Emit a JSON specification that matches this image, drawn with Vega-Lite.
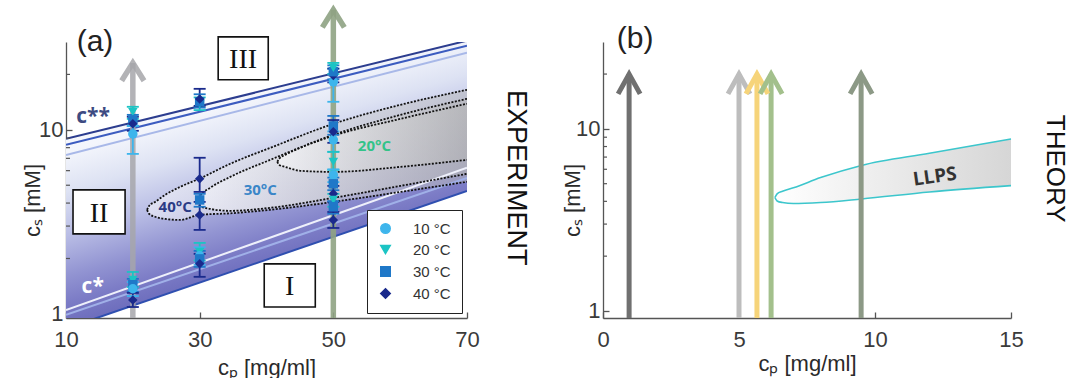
{
  "$schema": "https://vega.github.io/schema/vega-lite/v6.json",
  "padding": {"left": 21, "top": -2, "right": 6, "bottom": 0},
  "background": "white",
  "config": {
    "view": {"stroke": null},
    "font": "Liberation Sans",
    "axis": {"grid": false, "labelFlush": false, "domainColor": "#555555", "domainWidth": 1.3, "tickColor": "#555555", "tickWidth": 1.3, "tickSize": -6, "labelFontSize": 22, "labelColor": "#3a3a3a", "labelFont": "Liberation Sans", "titleFont": "Liberation Sans", "titleFontSize": 22, "titleFontWeight": "normal", "titleColor": "#2a2a2a"},
    "axisX": {"labelPadding": 17},
    "axisY": {"labelPadding": 9}
  },
  "datasets": {
    "contA": [
      {"t": "40", "cp": 22.13, "cs": 3.67, "cs2": 3.67},
      {"t": "40", "cp": 22.43, "cs": 3.5, "cs2": 3.86},
      {"t": "40", "cp": 23.33, "cs": 3.37, "cs2": 4.06},
      {"t": "40", "cp": 24.83, "cs": 3.28, "cs2": 4.43},
      {"t": "40", "cp": 27.08, "cs": 3.24, "cs2": 4.9},
      {"t": "40", "cp": 29.93, "cs": 3.45, "cs2": 5.42},
      {"t": "40", "cp": 34.57, "cs": 3.52, "cs2": 6.54},
      {"t": "40", "cp": 40.56, "cs": 3.68, "cs2": 7.98},
      {"t": "40", "cp": 50, "cs": 4.06, "cs2": 10.78},
      {"t": "40", "cp": 60.04, "cs": 4.6, "cs2": 13.67},
      {"t": "40", "cp": 70, "cs": 5.22, "cs2": 16.5},
      {"t": "30", "cp": 29.63, "cs": 4.06, "cs2": 4.06},
      {"t": "30", "cp": 30.07, "cs": 3.86, "cs2": 4.38},
      {"t": "30", "cp": 31.57, "cs": 3.72, "cs2": 4.84},
      {"t": "30", "cp": 34.57, "cs": 3.63, "cs2": 5.55},
      {"t": "30", "cp": 40.56, "cs": 3.77, "cs2": 6.87},
      {"t": "30", "cp": 50, "cs": 4.27, "cs2": 9.39},
      {"t": "30", "cp": 60.04, "cs": 4.96, "cs2": 12.06},
      {"t": "30", "cp": 70, "cs": 5.77, "cs2": 14.74},
      {"t": "20", "cp": 41.61, "cs": 6.7, "cs2": 6.7},
      {"t": "20", "cp": 41.91, "cs": 6.45, "cs2": 6.96},
      {"t": "20", "cp": 42.81, "cs": 6.29, "cs2": 7.31},
      {"t": "20", "cp": 45.06, "cs": 5.99, "cs2": 7.98},
      {"t": "20", "cp": 50, "cs": 5.91, "cs2": 9.28},
      {"t": "20", "cp": 60.04, "cs": 6.29, "cs2": 11.47},
      {"t": "20", "cp": 70, "cs": 6.87, "cs2": 13.85}
    ],
    "linesA": [
      {"id": "c2a", "cp": 10, "cs": 8.93}, {"id": "c2a", "cp": 70, "cs": 30.5},
      {"id": "c2b", "cp": 10, "cs": 8.3}, {"id": "c2b", "cp": 70, "cs": 28.6},
      {"id": "c2c", "cp": 10, "cs": 7.3}, {"id": "c2c", "cp": 70, "cs": 26.2},
      {"id": "c1a", "cp": 10, "cs": 1.05}, {"id": "c1a", "cp": 70, "cs": 6.22},
      {"id": "c1b", "cp": 10, "cs": 0.988}, {"id": "c1b", "cp": 70, "cs": 5.48},
      {"id": "c1c", "cp": 10, "cs": 0.833}, {"id": "c1c", "cp": 70, "cs": 4.66}
    ],
    "pointsA": [
      {"T": "20 °C", "cp": 20, "cs": 12.5, "lo": 11.47, "hi": 13.34},
      {"T": "30 °C", "cp": 20, "cs": 11.3, "lo": 10.52, "hi": 12.06},
      {"T": "40 °C", "cp": 20, "cs": 10.8, "lo": 9.88, "hi": 11.77},
      {"T": "10 °C", "cp": 20, "cs": 9.5, "lo": 7.4, "hi": 10.5},
      {"T": "20 °C", "cp": 20, "cs": 1.53, "lo": 1.4, "hi": 1.69},
      {"T": "30 °C", "cp": 20, "cs": 1.44, "lo": 1.32, "hi": 1.55},
      {"T": "10 °C", "cp": 20, "cs": 1.37, "lo": 1.25, "hi": 1.49},
      {"T": "40 °C", "cp": 20, "cs": 1.19, "lo": 1.09, "hi": 1.3},
      {"T": "20 °C", "cp": 30, "cs": 13.8, "lo": 12.8, "hi": 15.0},
      {"T": "30 °C", "cp": 30, "cs": 14.2, "lo": 13.2, "hi": 15.6},
      {"T": "40 °C", "cp": 30, "cs": 14.7, "lo": 13.5, "hi": 16.7},
      {"T": "40 °C", "cp": 30, "cs": 5.42, "lo": 4.6, "hi": 7.05},
      {"T": "30 °C", "cp": 30, "cs": 4.16, "lo": 3.82, "hi": 4.49},
      {"T": "40 °C", "cp": 30, "cs": 3.45, "lo": 2.86, "hi": 4.06},
      {"T": "20 °C", "cp": 30, "cs": 2.17, "lo": 1.95, "hi": 2.43},
      {"T": "10 °C", "cp": 30, "cs": 2.07, "lo": 1.85, "hi": 2.3},
      {"T": "30 °C", "cp": 30, "cs": 1.99, "lo": 1.8, "hi": 2.2},
      {"T": "40 °C", "cp": 30, "cs": 1.87, "lo": 1.59, "hi": 2.12},
      {"T": "10 °C", "cp": 50, "cs": 18.2, "lo": 14.2, "hi": 21.5},
      {"T": "40 °C", "cp": 50, "cs": 19.7, "lo": 18.1, "hi": 21.5},
      {"T": "30 °C", "cp": 50, "cs": 20.7, "lo": 18.8, "hi": 22.4},
      {"T": "20 °C", "cp": 50, "cs": 21.7, "lo": 20.1, "hi": 23.1},
      {"T": "30 °C", "cp": 50, "cs": 10.5, "lo": 9.4, "hi": 11.9},
      {"T": "10 °C", "cp": 50, "cs": 8.83, "lo": 7.6, "hi": 9.8},
      {"T": "40 °C", "cp": 50, "cs": 9.75, "lo": 8.5, "hi": 11.3},
      {"T": "20 °C", "cp": 50, "cs": 6.7, "lo": 6.06, "hi": 7.59},
      {"T": "10 °C", "cp": 50, "cs": 5.69, "lo": 5.2, "hi": 6.1},
      {"T": "30 °C", "cp": 50, "cs": 5.09, "lo": 4.7, "hi": 5.5},
      {"T": "40 °C", "cp": 50, "cs": 4.49, "lo": 4.06, "hi": 4.96},
      {"T": "20 °C", "cp": 50, "cs": 4.16, "lo": 3.82, "hi": 4.49},
      {"T": "30 °C", "cp": 50, "cs": 3.82, "lo": 3.5, "hi": 4.1},
      {"T": "40 °C", "cp": 50, "cs": 3.24, "lo": 2.93, "hi": 3.58}
    ],
    "arrowsA": [
      {"a": "g", "cp": 20, "cs": 0.95, "cs2": 23.1},
      {"a": "G", "cp": 50, "cs": 0.95, "cs2": 44.9}
    ],
    "llps": [
      {"cp": 6.32, "cs": 4.2, "cs2": 4.2},
      {"cp": 6.4, "cs": 4.02, "cs2": 4.4},
      {"cp": 6.6, "cs": 3.94, "cs2": 4.55},
      {"cp": 7, "cs": 3.89, "cs2": 4.75},
      {"cp": 8, "cs": 3.94, "cs2": 5.4},
      {"cp": 9.5, "cs": 4.12, "cs2": 6.3},
      {"cp": 12, "cs": 4.5, "cs2": 7.35},
      {"cp": 15, "cs": 4.88, "cs2": 8.8}
    ],
    "arrowsB": [
      {"n": "k1", "cp": 0.96, "cs": 0.915, "cs2": 20},
      {"n": "k2", "cp": 5.0, "cs": 0.915, "cs2": 20},
      {"n": "y", "cp": 5.66, "cs": 0.915, "cs2": 20},
      {"n": "g", "cp": 6.18, "cs": 0.915, "cs2": 20},
      {"n": "k3", "cp": 9.49, "cs": 0.915, "cs2": 20}
    ]
  },
  "spacing": 136,
  "bounds": "flush",
  "resolve": {"scale": {"x": "independent", "y": "independent", "color": "independent", "shape": "independent", "stroke": "independent", "fill": "independent"}},
  "hconcat": [
    {
      "width": 401,
      "height": 276,
      "encoding": {
        "x": {"field": "cp", "type": "quantitative", "scale": {"domain": [10, 70], "nice": false, "zero": false}, "axis": {"values": [10, 30, 50, 70], "title": "cₚ [mg/ml]", "titleY": 49, "titleBaseline": "middle"}},
        "y": {"field": "cs", "type": "quantitative", "scale": {"type": "log", "domain": [0.95, 30], "nice": false}, "axis": {"values": [1, 10], "title": "cₛ [mM]", "titleX": -34, "titleY": 158, "titleBaseline": "middle"}}
      },
      "layer": [
        {
          "data": {"values": [{"cp": 10, "cs": 0.833, "cs2": 8.93}, {"cp": 70, "cs": 4.66, "cs2": 30.5}]},
          "mark": {"type": "area", "clip": true, "color": {"gradient": "linear", "x1": 0, "y1": 0, "x2": 0.41, "y2": 1, "stops": [{"offset": 0, "color": "#ffffff"}, {"offset": 0.33, "color": "#f4f6fc"}, {"offset": 0.45, "color": "#dde2f3"}, {"offset": 0.58, "color": "#b9bde5"}, {"offset": 0.7, "color": "#9294d2"}, {"offset": 0.78, "color": "#7c7cc6"}, {"offset": 0.86, "color": "#6b6bbb"}, {"offset": 1, "color": "#6b6bbb"}]}},
          "encoding": {"y2": {"field": "cs2"}}
        },
        {
          "data": {"name": "contA"},
          "mark": {"type": "area", "clip": true, "interpolate": "monotone", "fillOpacity": 0.5, "color": {"gradient": "linear", "x1": 0, "y1": 0.5, "x2": 1, "y2": 0.5, "stops": [{"offset": 0, "color": "#ffffff"}, {"offset": 1, "color": "#b4b4b4"}]}},
          "encoding": {"y2": {"field": "cs2"}, "detail": {"field": "t"}}
        },
        {
          "data": {"name": "linesA"},
          "mark": {"type": "line", "clip": true, "strokeWidth": 2},
          "encoding": {"stroke": {"field": "id", "type": "nominal", "scale": {"domain": ["c2a", "c2b", "c2c", "c1a", "c1b", "c1c"], "range": ["#2c3d8f", "#3c5cc0", "#a8b8e8", "#eef0fb", "#a0b0e8", "#2f4fb0"]}, "legend": null}}
        },
        {
          "data": {"name": "contA"},
          "transform": [{"fold": ["cs", "cs2"], "as": ["side", "v"]}],
          "mark": {"type": "line", "clip": true, "interpolate": "monotone", "strokeDash": [2, 1.5], "color": "#111111", "strokeWidth": 1.8},
          "encoding": {"y": {"field": "v", "type": "quantitative", "scale": {"type": "log", "domain": [0.95, 30], "nice": false}}, "detail": [{"field": "t"}, {"field": "side"}]}
        },
        {
          "data": {"name": "arrowsA"},
          "transform": [{"filter": "datum.a == 'g'"}],
          "mark": {"type": "rule", "clip": false, "strokeWidth": 5.5, "color": "#a6a6aa", "opacity": 0.85},
          "encoding": {"y2": {"field": "cs2"}}
        },
        {
          "data": {"name": "arrowsA"},
          "transform": [{"filter": "datum.a == 'g'"}],
          "mark": {"type": "point", "clip": false, "shape": "M -1 1.6 L 0 0 L 1 1.6", "size": 500, "strokeWidth": 5.5, "color": "#a6a6aa", "opacity": 0.85, "filled": false},
          "encoding": {"y": {"field": "cs2", "type": "quantitative", "scale": {"type": "log", "domain": [0.95, 30], "nice": false}}}
        },
        {
          "data": {"name": "arrowsA"},
          "transform": [{"filter": "datum.a == 'G'"}],
          "mark": {"type": "rule", "clip": false, "strokeWidth": 5.5, "color": "#8fa383", "opacity": 0.9},
          "encoding": {"y2": {"field": "cs2"}}
        },
        {
          "data": {"name": "arrowsA"},
          "transform": [{"filter": "datum.a == 'G'"}],
          "mark": {"type": "point", "clip": false, "shape": "M -1 1.6 L 0 0 L 1 1.6", "size": 484, "strokeWidth": 5.5, "color": "#8fa383", "opacity": 0.9, "filled": false},
          "encoding": {"y": {"field": "cs2", "type": "quantitative", "scale": {"type": "log", "domain": [0.95, 30], "nice": false}}}
        },
        {
          "data": {"name": "pointsA"},
          "mark": {"type": "rule", "strokeWidth": 1.8},
          "encoding": {
            "y": {"field": "lo", "type": "quantitative", "scale": {"type": "log", "domain": [0.95, 30], "nice": false}},
            "y2": {"field": "hi"},
            "color": {"field": "T", "type": "nominal", "scale": {"domain": ["10 °C", "20 °C", "30 °C", "40 °C"], "range": ["#3db5ec", "#1cc4c4", "#1f78c8", "#1a2a8c"]}}
          }
        },
        {
          "data": {"name": "pointsA"},
          "transform": [{"fold": ["lo", "hi"], "as": ["k", "v"]}],
          "mark": {"type": "point", "shape": "M -1 0 L 1 0", "size": 144, "strokeWidth": 1.8, "filled": false, "opacity": 1},
          "encoding": {
            "y": {"field": "v", "type": "quantitative", "scale": {"type": "log", "domain": [0.95, 30], "nice": false}},
            "color": {"field": "T", "type": "nominal", "scale": {"domain": ["10 °C", "20 °C", "30 °C", "40 °C"], "range": ["#3db5ec", "#1cc4c4", "#1f78c8", "#1a2a8c"]}}
          }
        },
        {
          "data": {"name": "pointsA"},
          "mark": {"type": "point", "filled": true, "size": 90, "opacity": 1},
          "encoding": {
            "color": {"field": "T", "type": "nominal", "scale": {"domain": ["10 °C", "20 °C", "30 °C", "40 °C"], "range": ["#3db5ec", "#1cc4c4", "#1f78c8", "#1a2a8c"]}, "legend": {"orient": "bottom-right", "offset": 5, "title": null, "strokeColor": "#222222", "fillColor": "white", "padding": 11, "labelFontSize": 15, "labelColor": "#333333", "symbolSize": 90, "rowPadding": 5, "labelOffset": 20}},
            "shape": {"field": "T", "type": "nominal", "scale": {"domain": ["10 °C", "20 °C", "30 °C", "40 °C"], "range": ["circle", "triangle-down", "square", "diamond"]}, "legend": {"orient": "bottom-right", "offset": 5, "title": null, "strokeColor": "#222222", "fillColor": "white", "padding": 11, "labelFontSize": 15, "labelColor": "#333333", "symbolSize": 90, "rowPadding": 5, "labelOffset": 20}}
          }
        },
        {
          "data": {"values": [{"cp": 32.77, "cp2": 40.26, "cs": 18.7, "cs2": 32.0}, {"cp": 11.05, "cp2": 18.84, "cs": 2.72, "cs2": 4.72}, {"cp": 39.66, "cp2": 47.3, "cs": 1.09, "cs2": 1.87}]},
          "mark": {"type": "rect", "clip": false, "fill": "white", "stroke": "#111111", "strokeWidth": 1.6},
          "encoding": {"x2": {"field": "cp2"}, "y2": {"field": "cs2"}}
        },
        {
          "data": {"values": [{"txt": "III", "cp": 36.5, "cs": 24.5}, {"txt": "II", "cp": 14.95, "cs": 3.58}, {"txt": "I", "cp": 43.48, "cs": 1.437}]},
          "mark": {"type": "text", "clip": false, "font": "Liberation Serif", "fontSize": 28, "color": "#111111", "baseline": "middle", "align": "center", "dy": 2},
          "encoding": {"text": {"field": "txt"}}
        },
        {
          "data": {"values": [{"txt": "c**", "cp": 14.05, "cs": 11.8}, {"txt": "c*", "cp": 14.0, "cs": 1.4}]},
          "mark": {"type": "text", "font": "Open Sans", "fontWeight": "bold", "fontSize": 21, "baseline": "middle", "align": "center"},
          "encoding": {"text": {"field": "txt"}, "fill": {"field": "txt", "type": "nominal", "scale": {"domain": ["c**", "c*", "40°C", "30°C", "20°C"], "range": ["#3d4b82", "#ffffff", "#2b3b85", "#3a86c8", "#33c389"]}, "legend": null}}
        },
        {
          "data": {"values": [{"txt": "40°C", "cp": 26.33, "cs": 3.81}, {"txt": "30°C", "cp": 39.06, "cs": 4.72}, {"txt": "20°C", "cp": 56.14, "cs": 8.19}]},
          "mark": {"type": "text", "font": "Open Sans", "fontWeight": "bold", "fontSize": 15, "baseline": "middle", "align": "center"},
          "encoding": {"text": {"field": "txt"}, "fill": {"field": "txt", "type": "nominal", "scale": {"domain": ["c**", "c*", "40°C", "30°C", "20°C"], "range": ["#3d4b82", "#ffffff", "#2b3b85", "#3a86c8", "#33c389"]}, "legend": null}}
        },
        {
          "data": {"values": [{"txt": "(a)", "cp": 14.34, "cs": 30}]},
          "mark": {"type": "text", "clip": false, "fontSize": 30, "color": "#222222", "baseline": "middle", "align": "center"},
          "encoding": {"text": {"field": "txt"}}
        },
        {
          "data": {"values": [{"txt": "EXPERIMENT", "cp": 77.4, "cs": 5.49}]},
          "mark": {"type": "text", "clip": false, "fontSize": 27, "angle": 90, "color": "#111111", "baseline": "middle", "align": "center"},
          "encoding": {"text": {"field": "txt"}}
        },
        {
          "data": {"values": [{"cp": 10, "cs": 2}, {"cp": 10, "cs": 3}, {"cp": 10, "cs": 4}, {"cp": 10, "cs": 5}, {"cp": 10, "cs": 6}, {"cp": 10, "cs": 7}, {"cp": 10, "cs": 8}, {"cp": 10, "cs": 9}, {"cp": 10, "cs": 20}]},
          "mark": {"type": "point", "shape": "M 0 0 L 1 0", "size": 64, "filled": false, "color": "#555555", "strokeWidth": 1.2, "opacity": 1},
          "encoding": {}
        }
      ]
    },
    {
      "width": 408,
      "height": 276,
      "encoding": {
        "x": {"field": "cp", "type": "quantitative", "scale": {"domain": [0, 15], "nice": false, "zero": false}, "axis": {"values": [0, 5, 10, 15], "title": "cₚ [mg/ml]", "titleY": 45, "titleBaseline": "middle"}},
        "y": {"field": "cs", "type": "quantitative", "scale": {"type": "log", "domain": [0.915, 30], "nice": false}, "axis": {"values": [1, 10], "title": "cₛ [mM]", "titleX": -31, "titleY": 158, "titleBaseline": "middle"}}
      },
      "layer": [
        {
          "data": {"name": "llps"},
          "mark": {"type": "area", "interpolate": "monotone", "color": {"gradient": "linear", "x1": 0, "y1": 0.5, "x2": 1, "y2": 0.5, "stops": [{"offset": 0, "color": "#ffffff"}, {"offset": 1, "color": "#d6d6d6"}]}},
          "encoding": {"y2": {"field": "cs2"}}
        },
        {
          "data": {"name": "llps"},
          "transform": [{"fold": ["cs", "cs2"], "as": ["side", "v"]}],
          "mark": {"type": "line", "interpolate": "monotone", "color": "#3cc6cc", "strokeWidth": 1.6},
          "encoding": {"y": {"field": "v", "type": "quantitative", "scale": {"type": "log", "domain": [0.915, 30], "nice": false}}, "detail": {"field": "side"}}
        },
        {
          "data": {"name": "arrowsB"},
          "mark": {"type": "rule", "clip": false, "strokeWidth": 5},
          "encoding": {"y2": {"field": "cs2"}, "stroke": {"field": "n", "type": "nominal", "scale": {"domain": ["k1", "k2", "y", "g", "k3"], "range": ["#707070", "#bdbdbd", "#f6d47a", "#a3c08c", "#8c9986"]}, "legend": null}}
        },
        {
          "data": {"name": "arrowsB"},
          "mark": {"type": "point", "clip": false, "shape": "M -1 1.8 L 0 0 L 1 1.8", "size": 484, "strokeWidth": 5, "filled": false, "opacity": 1},
          "encoding": {"y": {"field": "cs2", "type": "quantitative", "scale": {"type": "log", "domain": [0.915, 30], "nice": false}}, "stroke": {"field": "n", "type": "nominal", "scale": {"domain": ["k1", "k2", "y", "g", "k3"], "range": ["#707070", "#bdbdbd", "#f6d47a", "#a3c08c", "#8c9986"]}, "legend": null}}
        },
        {
          "data": {"values": [{"txt": "LLPS", "cp": 12.2, "cs": 5.46}]},
          "mark": {"type": "text", "font": "Open Sans", "fontWeight": "bold", "fontSize": 19, "angle": -8, "color": "#333333", "baseline": "middle", "align": "center"},
          "encoding": {"text": {"field": "txt"}}
        },
        {
          "data": {"values": [{"txt": "(b)", "cp": 1.18, "cs": 31.0}]},
          "mark": {"type": "text", "clip": false, "fontSize": 30, "color": "#222222", "baseline": "middle", "align": "center"},
          "encoding": {"text": {"field": "txt"}}
        },
        {
          "data": {"values": [{"txt": "THEORY", "cp": 16.6, "cs": 6.04}]},
          "mark": {"type": "text", "clip": false, "fontSize": 26, "angle": 90, "color": "#111111", "baseline": "middle", "align": "center"},
          "encoding": {"text": {"field": "txt"}}
        },
        {
          "data": {"values": [{"cp": 0, "cs": 2}, {"cp": 0, "cs": 3}, {"cp": 0, "cs": 4}, {"cp": 0, "cs": 5}, {"cp": 0, "cs": 6}, {"cp": 0, "cs": 7}, {"cp": 0, "cs": 8}, {"cp": 0, "cs": 9}, {"cp": 0, "cs": 20}]},
          "mark": {"type": "point", "shape": "M 0 0 L 1 0", "size": 64, "filled": false, "color": "#555555", "strokeWidth": 1.2, "opacity": 1},
          "encoding": {}
        }
      ]
    }
  ]
}
